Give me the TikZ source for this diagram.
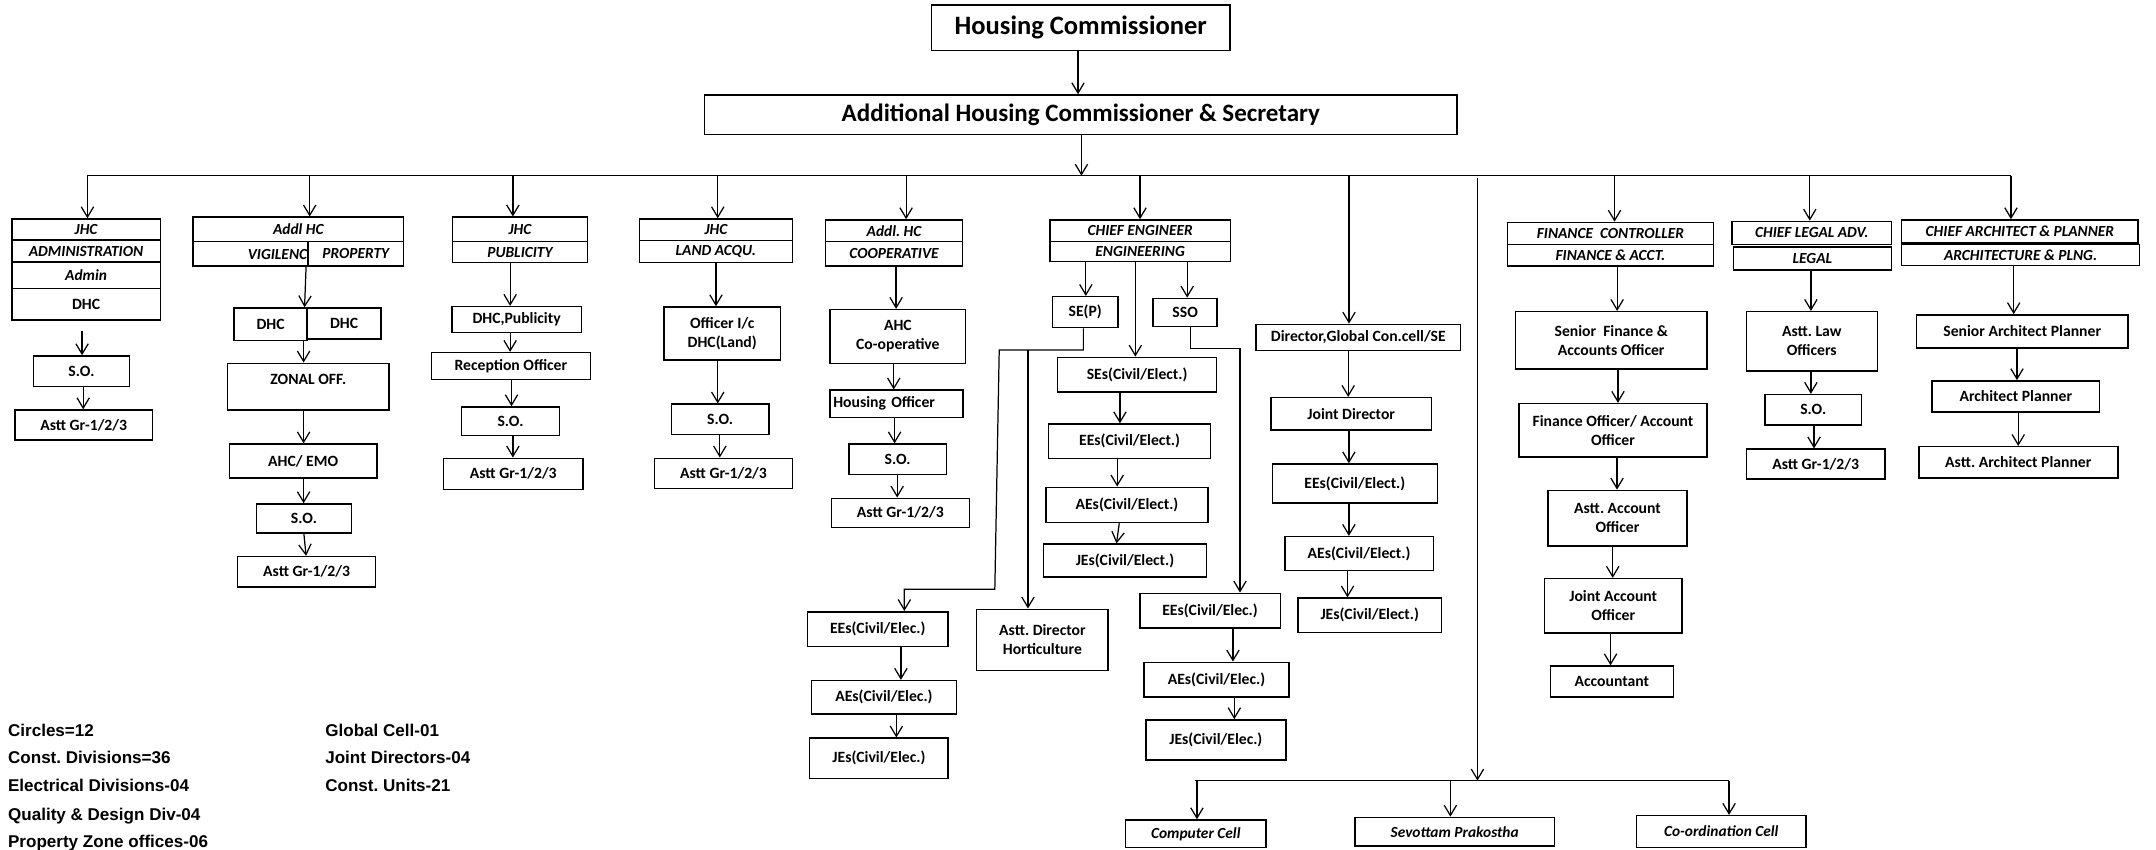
\documentclass[tikz,border=0pt]{standalone}
\usepackage{fontspec}
\setmainfont{Carlito}
\newfontfamily\lgfont{Liberation Sans}
\usetikzlibrary{arrows.meta}
\frenchspacing
\tikzset{
 box/.style={draw, line width=1.1pt, inner sep=1pt, align=center, font=\bfseries\fontsize{11.4}{13.8}\selectfont},
 hd/.style={box, font=\bfseries\itshape\fontsize{11.2}{13}\selectfont},
 hdt/.style={inner sep=0pt, font=\bfseries\itshape\fontsize{11.2}{13}\selectfont},
 arr/.style={line width=0.9pt, -{Straight Barb[length=7.5pt,width=9pt,line width=0.9pt]}},
 ln/.style={line width=0.9pt},
 lg/.style={font=\lgfont\bfseries\fontsize{12.4}{14}\selectfont, anchor=base west, inner sep=0pt},
}
\newcommand\bx[7][]{\node[box,#1,minimum width={(#5-#3)*1pt},minimum height={(#6-#4)*1pt}] (#2) at ({(#3+#5)/2},{(#4+#6)/2}) {#7};}
\newcommand\va[3]{\draw[arr] (#1.south -| #3,0) -- (#2.north -| #3,0);}
\newcommand\vb[4]{\draw[arr] (#1.south -| #3,0) -- (#2.north -| #4,0);}
\newcommand\br[2]{\draw[arr] (busL -| #2,0) -- (#1.north -| #2,0);}
\begin{document}
\begin{tikzpicture}[x=1pt,y=-1pt]
\useasboundingbox (0,0) rectangle (1568,618);
% top
\bx[font=\bfseries\fontsize{19.3}{22}\selectfont]{hc}{677.5}{3.6}{894.5}{36.8}{Housing Commissioner}
\bx[font=\bfseries\fontsize{18.2}{21}\selectfont]{ahc}{512.4}{69.1}{1059.7}{97.7}{Additional Housing Commissioner \& Secretary}
\va{hc}{ahc}{784}
\coordinate (busL) at (63.6,127.8);
\coordinate (busR) at (1462.5,127.8);
\draw[arr] (ahc.south -| 786.5,0) -- (busL -| 786.5,0);
\draw[ln] (busL) -- (busR);
% column 1
\bx[hd]{a1}{8.6}{159.3}{116.6}{174.5}{JHC}
\bx[hd]{a2}{8.6}{174.5}{116.6}{190.7}{ADMINISTRATION}
\bx[hd]{a3}{8.6}{190.7}{116.6}{209.8}{Admin}
\bx{a4}{8.6}{209.8}{116.6}{232.9}{DHC}
\bx{so1}{24.2}{258.9}{94.3}{281}{S.O.}
\bx{ast1}{10.9}{298.2}{110.9}{320}{Astt Gr-1/2/3}
\br{a1}{63.6}
\draw[arr] ([yshift=-7pt]a4.south -| 59.7,0) -- (so1.north -| 59.7,0);
\va{so1}{ast1}{60.5}
% column 2
\bx[hd]{v1}{140.5}{158}{293.5}{175.8}{Addl HC}
\bx[hd]{v2}{140.5}{175.8}{224}{193.5}{}
\node[hdt, anchor=east] (v2t) at (229,185.2) {VIGILENCE};
\bx[hd,fill=white]{v3}{224}{175.8}{293.5}{193.5}{PROPERTY}
\bx{d1}{170.1}{224}{223.4}{247.5}{DHC}
\bx{d2}{223.4}{224}{277.1}{246.5}{DHC}
\bx{zo}{165.5}{264.2}{283}{298.2}{ZONAL OFF.\\[-3pt]\mbox{}}
\bx{ae}{167}{323}{274}{347.6}{AHC/ EMO}
\bx{so2}{186.5}{366.5}{255.6}{387.6}{S.O.}
\bx{ast2}{172.7}{404.8}{273.2}{426.9}{Astt Gr-1/2/3}
\br{v1}{225.2}
\vb{v2}{d1}{222.6}{221.5}
\va{d1}{zo}{220.8}
\va{zo}{ae}{220.8}
\va{ae}{so2}{220.8}
\vb{so2}{ast2}{221}{222.6}
% column 3
\bx[hd]{p1}{329}{158}{427.3}{175.8}{JHC}
\bx[hd]{p2}{329}{175.8}{427.3}{191}{PUBLICITY}
\bx{dp}{328.6}{223}{422.8}{241.7}{DHC,Publicity}
\bx{ro}{313.8}{256.5}{429.3}{276.1}{Reception Officer}
\bx{so3}{335.6}{296}{407}{316.9}{S.O.}
\bx{ast3}{322.6}{333.3}{424}{355.9}{Astt Gr-1/2/3}
\br{p1}{373}
\va{p2}{dp}{371}
\va{dp}{ro}{371}
\va{ro}{so3}{372}
\va{so3}{ast3}{373}
% column 4
\bx[hd]{l1}{465}{159.3}{576.3}{174.8}{JHC}
\bx[hd]{l2}{465}{174.8}{576.3}{191}{LAND ACQU.}
\bx{oic}{482.8}{223.3}{567.7}{261.8}{Officer I/c\\DHC(Land)}
\bx{so4}{488.2}{294}{559.2}{315.9}{S.O.}
\bx{ast4}{476.1}{333.3}{576.3}{355.1}{Astt Gr-1/2/3}
\br{l1}{522}
\va{l2}{oic}{520.7}
\va{oic}{so4}{522}
\va{so4}{ast4}{523.5}
% column 5
\bx[hd]{c1}{600.4}{160}{700}{175.8}{Addl. HC}
\bx[hd]{c2}{600.4}{175.8}{700}{193.5}{COOPERATIVE}
\bx{ahcc}{603.8}{225.2}{702.2}{264.2}{AHC\\Co-operative}
\bx[text width=92pt, align=left]{ho}{603.8}{283.8}{700.3}{303.5}{Housing Officer}
\bx{so5}{617.3}{323}{688.4}{345}{S.O.}
\bx{ast5}{604.6}{362.4}{705}{383.5}{Astt Gr-1/2/3}
\br{c1}{659}
\va{c2}{ahcc}{651.7}
\va{ahcc}{ho}{650}
\va{ho}{so5}{650.6}
\va{so5}{ast5}{652.5}
% chief engineer
\bx[hd]{ce1}{763.6}{160}{894.8}{175.7}{CHIEF ENGINEER}
\bx[hd]{ce2}{763.6}{175.7}{894.8}{190.3}{ENGINEERING}
\bx{sep}{765.6}{215.8}{812.9}{238.3}{SE(P)}
\bx{sso}{838.7}{217}{885.2}{237.6}{SSO}
\bx{ses}{769.2}{259.9}{884.8}{285.1}{SEs(Civil/Elect.)}
\bx{ees}{762.6}{308.4}{880.4}{333.3}{EEs(Civil/Elect.)}
\bx{aes}{760.7}{354.4}{878.5}{380}{AEs(Civil/Elect.)}
\bx{jes}{758.8}{395.8}{877.5}{419.8}{JEs(Civil/Elect.)}
\br{ce1}{829.1}
\va{ce2}{sep}{789.7}
\va{ce2}{sso}{863.4}
\va{ce2}{ses}{825.7}
\va{ses}{ees}{814.5}
\va{ees}{aes}{812.5}
\vb{aes}{jes}{814}{812}
% SE(P) branch
\bx{eel}{587.1}{444.9}{689.6}{470.3}{EEs(Civil/Elec.)}
\bx{ael}{590.1}{495}{695.6}{519.3}{AEs(Civil/Elec.)}
\bx{jel}{588.8}{536.9}{689.6}{566}{JEs(Civil/Elec.)}
\bx{hort}{710.3}{443.1}{805.9}{487.7}{Astt. Director\\Horticulture}
\coordinate (sp1) at (787.9,254.5);
\coordinate (sp2) at (726.7,254.5);
\coordinate (sp3) at (723.5,428.6);
\coordinate (sp4) at (657.7,428.6);
\coordinate (hp) at (747.6,254.5);
\draw[arr] (sep.south -| sp1) -- (sp1) -- (sp2) -- (sp3) -- (sp4) -- (eel.north -| sp4);
\draw[arr] (hp) -- (hort.north -| hp);
\va{eel}{ael}{655.2}
\va{ael}{jel}{651.9}
% SSO branch
\bx{eer}{828.9}{431.5}{931.1}{456.9}{EEs(Civil/Elec.)}
\bx{aer}{832}{481.7}{937.4}{507}{AEs(Civil/Elec.)}
\bx{jer}{833.3}{523.6}{935.2}{552.7}{JEs(Civil/Elec.)}
\coordinate (ss1) at (865.9,253.3);
\coordinate (ss2) at (901.8,253.3);
\draw[arr] (sso.south -| ss1) -- (ss1) -- (ss2) -- (eer.north -| ss2);
\va{eer}{aer}{896.7}
\va{aer}{jer}{897.7}
% global cell
\bx{dg}{913.5}{235.9}{1062.3}{255}{Director,Global Con.cell/SE}
\bx{jd}{924.5}{289.2}{1040.9}{312.7}{Joint Director}
\bx{gee}{925.3}{337.5}{1045.3}{366}{EEs(Civil/Elect.)}
\bx{gae}{934.4}{390.3}{1042.4}{415}{AEs(Civil/Elect.)}
\bx{gje}{943.9}{435}{1048.4}{460}{JEs(Civil/Elect.)}
\br{dg}{981.1}
\va{dg}{jd}{980.5}
\va{jd}{gee}{981}
\va{gee}{gae}{981}
\va{gae}{gje}{980}
% bottom cells
\coordinate (lv) at (1074.5,129.7);
\coordinate (bbL) at (869.3,567.7);
\coordinate (bbR) at (1257.5,567.7);
\draw[arr] (lv) -- (lv |- bbL);
\draw[ln] (bbL) -- (bbR);
\bx[hd]{cc}{818.4}{596.4}{920.9}{616.4}{Computer Cell}
\bx[hd]{spk}{985.3}{594.5}{1130.6}{615.3}{Sevottam Prakostha}
\bx[hd]{co}{1190.1}{593.2}{1313.6}{616.4}{Co-ordination Cell}
\draw[arr] (bbL -| 870.5,0) -- (cc.north -| 870.5,0);
\draw[arr] (bbL -| 1054.8,0) -- (spk.north -| 1054.8,0);
\draw[arr] (bbR) -- (co.north -| bbR);
% finance
\bx[hd]{f1}{1096.4}{161.8}{1246}{177.7}{FINANCE~~CONTROLLER}
\bx[hd]{f2}{1096.4}{177.7}{1246}{193.5}{FINANCE \& ACCT.}
\bx{sfa}{1102}{226.7}{1241.6}{268.3}{Senior~~Finance \&\\Accounts Officer}
\bx{fo}{1104.6}{293.5}{1241.6}{332.5}{Finance Officer/ Account\\Officer}
\bx{aao}{1125.9}{356.6}{1226.8}{396.9}{Astt. Account\\Officer}
\bx{jao}{1123.4}{420.8}{1223.1}{460.5}{Joint Account\\Officer}
\bx{acc}{1127.5}{484.4}{1216.9}{506.8}{Accountant}
\br{f1}{1174.2}
\va{f2}{sfa}{1176.1}
\va{sfa}{fo}{1176.7}
\va{fo}{aao}{1176}
\va{aao}{jao}{1172.9}
\va{jao}{acc}{1171.3}
% legal
\bx[hd]{g1}{1259.7}{161}{1375.6}{177.9}{CHIEF LEGAL ADV.}
\bx[hd]{g2}{1260.6}{179.7}{1375.6}{196.4}{LEGAL}
\bx{alo}{1270}{226.7}{1365.3}{269.9}{Astt. Law\\Officers}
\bx{so6}{1283.8}{287}{1353.7}{309}{S.O.}
\bx{ast6}{1270}{326.7}{1371}{348.3}{Astt Gr-1/2/3}
\br{g1}{1316.2}
\va{g2}{alo}{1317}
\va{alo}{so6}{1317}
\va{so6}{ast6}{1319.3}
% architecture
\bx[hd]{r1}{1383}{160}{1555}{176.6}{CHIEF ARCHITECT \& PLANNER}
\bx[hd]{r2}{1383}{177.7}{1556}{193}{ARCHITECTURE \& PLNG.}
\bx{sap}{1393.9}{229}{1547.5}{253.2}{Senior Architect Planner}
\bx{ap}{1405.2}{277}{1526.9}{299.7}{Architect Planner}
\bx{aap}{1395.5}{324.9}{1540.2}{347.5}{Astt. Architect Planner}
\br{r1}{1462.5}
\va{r2}{sap}{1464.5}
\va{sap}{ap}{1466.9}
\va{ap}{aap}{1467.8}
% legend
\node[lg] (lg1) at (5.7,535.3) {Circles=12};
\node[lg] (lg2) at (5.7,555.6) {Const. Divisions=36};
\node[lg] (lg3) at (5.7,575.8) {Electrical Divisions-04};
\node[lg] (lg4) at (5.7,596.7) {Quality \& Design Div-04};
\node[lg] (lg5) at (5.7,616.5) {Property Zone offices-06};
\node[lg] (lg6) at (236.4,535.3) {Global Cell-01};
\node[lg] (lg7) at (236.4,555.6) {Joint Directors-04};
\node[lg] (lg8) at (236.4,575.8) {Const. Units-21};
\end{tikzpicture}
\end{document}
